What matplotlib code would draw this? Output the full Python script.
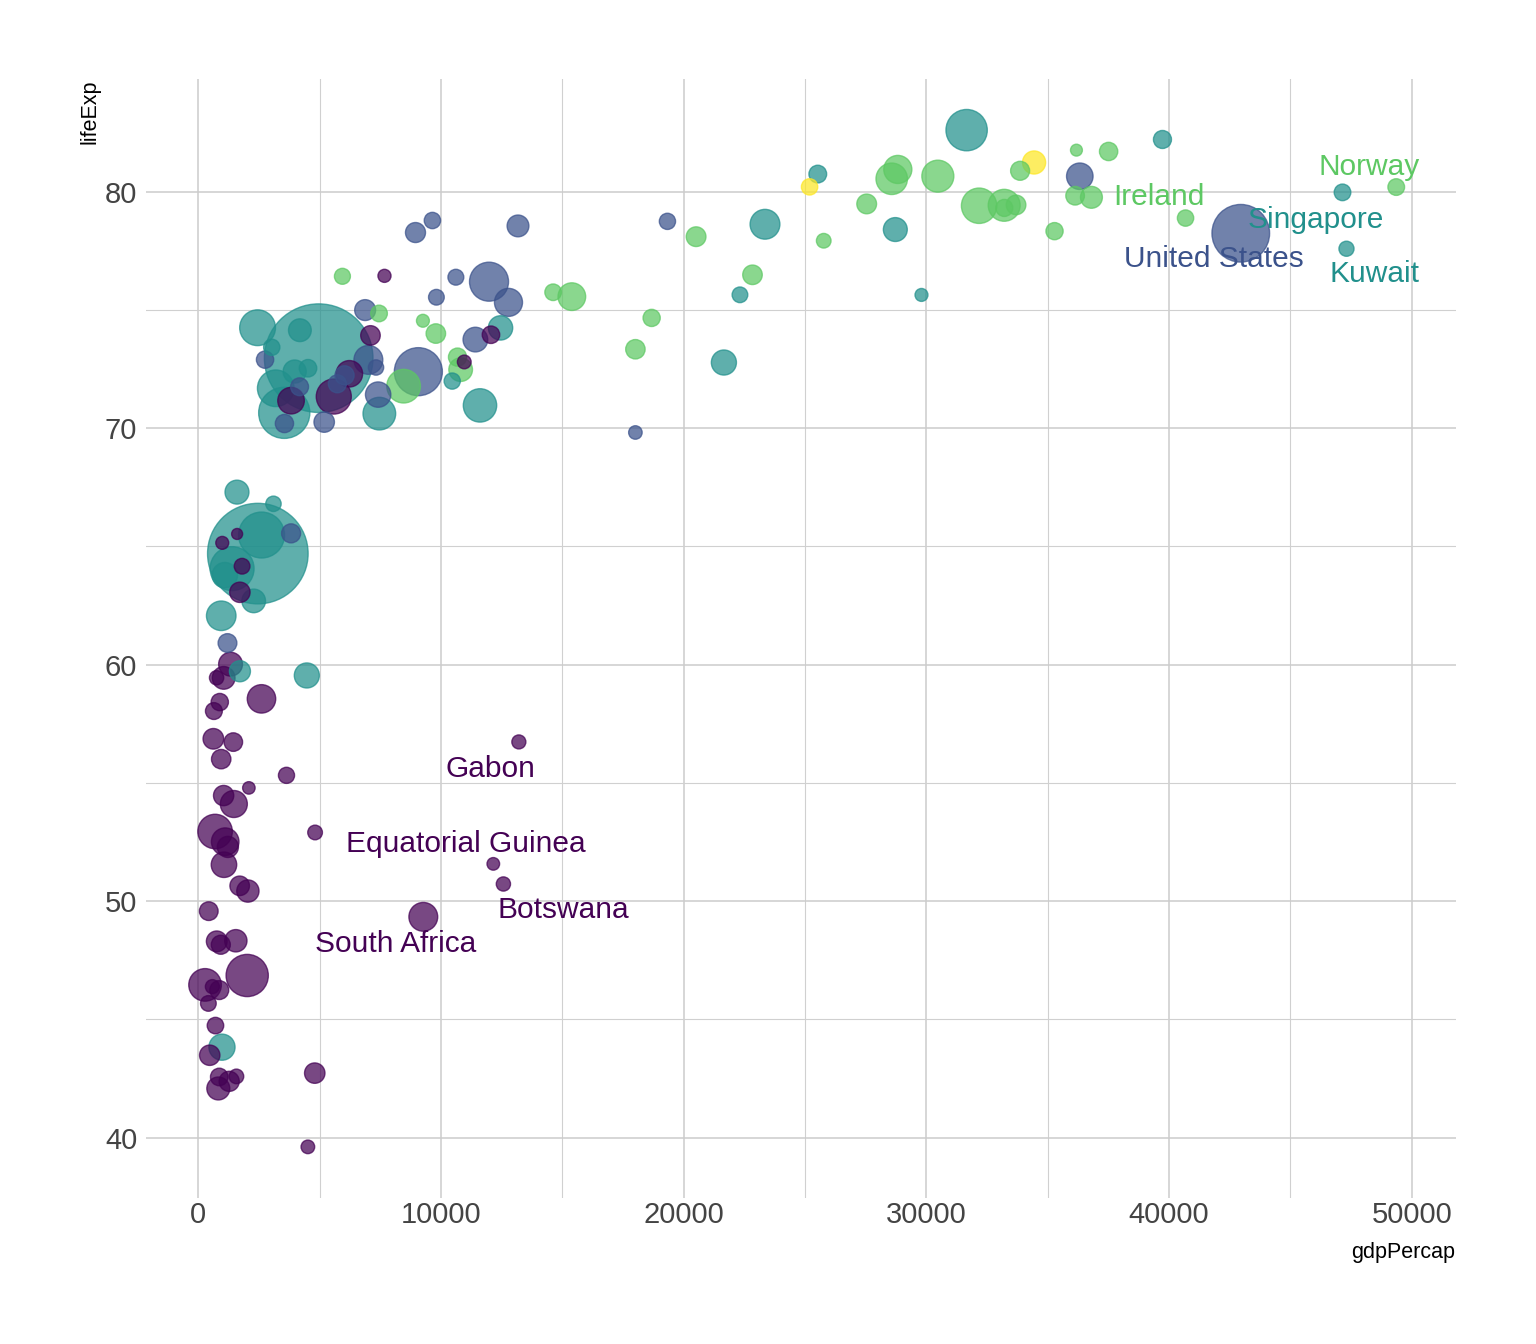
import numpy as np
import matplotlib
matplotlib.use("Agg")
import matplotlib.pyplot as plt
from matplotlib.ticker import MultipleLocator

countries = ["Afghanistan","Albania","Algeria","Angola","Argentina","Australia","Austria","Bahrain","Bangladesh","Belgium",
"Benin","Bolivia","Bosnia and Herzegovina","Botswana","Brazil","Bulgaria","Burkina Faso","Burundi","Cambodia","Cameroon",
"Canada","Central African Republic","Chad","Chile","China","Colombia","Comoros","Congo, Dem. Rep.","Congo, Rep.","Costa Rica",
"Cote d'Ivoire","Croatia","Cuba","Czech Republic","Denmark","Djibouti","Dominican Republic","Ecuador","Egypt","El Salvador",
"Equatorial Guinea","Eritrea","Ethiopia","Finland","France","Gabon","Gambia","Germany","Ghana","Greece",
"Guatemala","Guinea","Guinea-Bissau","Haiti","Honduras","Hong Kong, China","Hungary","Iceland","India","Indonesia",
"Iran","Iraq","Ireland","Israel","Italy","Jamaica","Japan","Jordan","Kenya","Korea, Dem. Rep.",
"Korea, Rep.","Kuwait","Lebanon","Lesotho","Liberia","Libya","Madagascar","Malawi","Malaysia","Mali",
"Mauritania","Mauritius","Mexico","Mongolia","Montenegro","Morocco","Mozambique","Myanmar","Namibia","Nepal",
"Netherlands","New Zealand","Nicaragua","Niger","Nigeria","Norway","Oman","Pakistan","Panama","Paraguay",
"Peru","Philippines","Poland","Portugal","Puerto Rico","Reunion","Romania","Rwanda","Sao Tome and Principe","Saudi Arabia",
"Senegal","Serbia","Sierra Leone","Singapore","Slovak Republic","Slovenia","Somalia","South Africa","Spain","Sri Lanka",
"Sudan","Swaziland","Sweden","Switzerland","Syria","Taiwan","Tanzania","Thailand","Togo","Trinidad and Tobago",
"Tunisia","Turkey","Uganda","United Kingdom","United States","Uruguay","Venezuela","Vietnam","West Bank and Gaza","Yemen, Rep.",
"Zambia","Zimbabwe"]

continent = ["Asia","Europe","Africa","Africa","Americas","Oceania","Europe","Asia","Asia","Europe",
"Africa","Americas","Europe","Africa","Americas","Europe","Africa","Africa","Asia","Africa",
"Americas","Africa","Africa","Americas","Asia","Americas","Africa","Africa","Africa","Americas",
"Africa","Europe","Americas","Europe","Europe","Africa","Americas","Americas","Africa","Americas",
"Africa","Africa","Africa","Europe","Europe","Africa","Africa","Europe","Africa","Europe",
"Americas","Africa","Africa","Americas","Americas","Asia","Europe","Europe","Asia","Asia",
"Asia","Asia","Europe","Asia","Europe","Americas","Asia","Asia","Africa","Asia",
"Asia","Asia","Asia","Africa","Africa","Africa","Africa","Africa","Asia","Africa",
"Africa","Africa","Americas","Asia","Europe","Africa","Africa","Asia","Africa","Asia",
"Europe","Oceania","Americas","Africa","Africa","Europe","Asia","Asia","Americas","Americas",
"Americas","Asia","Europe","Europe","Americas","Africa","Europe","Africa","Africa","Asia",
"Africa","Europe","Africa","Asia","Europe","Europe","Africa","Africa","Europe","Asia",
"Africa","Africa","Europe","Europe","Asia","Asia","Africa","Asia","Africa","Americas",
"Africa","Europe","Africa","Europe","Americas","Americas","Americas","Asia","Asia","Asia",
"Africa","Africa"]

lifeExp = [43.828,76.423,72.301,42.731,75.320,81.235,79.829,75.635,64.062,79.441,
56.728,65.554,74.852,50.728,72.390,73.005,52.295,49.580,59.723,50.430,
80.653,44.741,50.651,78.553,72.961,72.889,65.152,46.462,55.322,78.782,
48.328,75.748,78.273,76.486,78.332,54.791,72.235,74.994,71.338,71.878,
51.579,58.040,52.947,79.313,80.657,56.735,59.448,79.406,60.022,79.483,
70.259,56.007,46.388,60.916,70.198,82.208,73.338,81.757,64.698,70.650,
70.964,59.545,78.885,80.745,80.546,72.567,82.603,72.535,54.110,67.297,
78.623,77.588,71.993,42.592,45.678,73.952,59.443,48.303,74.241,54.467,
64.164,72.801,76.195,66.803,74.543,71.164,42.082,62.069,52.906,63.785,
79.762,80.204,72.899,56.867,46.859,80.196,75.640,65.483,75.537,71.752,
71.421,71.688,75.563,78.098,78.746,76.442,72.476,46.242,65.528,72.777,
63.062,74.002,42.568,79.972,74.663,77.926,48.159,49.339,80.941,72.396,
58.556,39.613,80.884,81.701,74.143,78.400,52.517,70.616,58.420,69.819,
73.923,71.777,51.542,79.425,78.242,76.384,73.747,74.249,73.422,62.698,
42.384,43.487]

gdpPercap = [974.58,5937.03,6223.37,4797.23,12779.38,34435.37,36126.49,29796.05,1391.25,33692.61,
1441.28,3822.14,7446.30,12569.85,9065.80,10680.79,1217.03,430.07,1713.78,2042.10,
36319.24,706.02,1704.06,13171.64,4959.11,7006.58,986.15,277.55,3632.56,9645.06,
1544.75,14619.22,8948.10,22833.31,35278.42,2082.48,6025.37,6873.26,5581.18,5728.35,
12154.09,641.37,690.81,33207.08,30470.02,13206.48,752.75,32170.37,1327.61,27538.41,
5186.05,942.65,579.23,1201.64,3548.33,39724.98,18008.94,36180.79,2452.21,3540.65,
11605.71,4471.06,40676.00,25523.28,28569.72,7320.88,31656.07,4519.46,1463.25,1593.07,
23348.14,47306.99,10461.06,1569.33,414.51,12057.50,1044.77,759.35,12451.66,1042.58,
1803.15,10956.99,11977.57,3095.77,9253.90,3820.18,823.69,944.00,4811.06,1091.36,
36797.93,25185.01,2749.32,619.68,2013.98,49357.19,22316.19,2605.95,9809.19,4172.84,
7408.91,3190.48,15389.92,20509.65,19328.71,7670.12,10808.48,863.09,1598.44,21654.83,
1712.47,9786.53,862.54,47143.18,18678.31,25768.26,926.14,9269.66,28821.06,3970.10,
2602.39,4513.48,33859.75,37506.42,4184.55,28718.28,1107.48,7458.40,882.97,18008.51,
7092.92,8458.28,1056.38,33203.26,42951.65,10611.46,11415.81,2441.58,3025.35,2280.77,
1271.21,469.71]

pop = [31889923,3600523,33333216,12420476,40301927,20434176,8199783,708573,150448339,10392226,
8078314,9119152,4552198,1639131,190010647,7322858,14326203,8390505,14131858,17696293,
33390141,4369038,10238807,16284741,1318683096,44227550,710960,64606759,3800610,4133884,
18013409,4493312,11416987,10228744,5468120,496374,9319622,13755680,80264543,6939688,
551201,4906585,76511887,5238460,61083916,1454867,1688359,82400996,22873338,10706290,
12572928,9947814,1472041,8502814,7483763,6980412,9956108,301931,1110396331,223547000,
69453570,27499638,4109086,6426679,58147733,2780132,127467972,6053193,35610177,23301725,
49044790,2505559,3921278,2012649,3193942,6036914,19167654,13327079,24821286,12031795,
3270065,1250882,108700891,2874127,684736,33757175,19951656,47761980,2055080,28901790,
16570613,4115771,5675356,12894865,135031164,4627926,3204897,169270617,3242173,6667147,
28674757,91077287,38518241,10642836,3942491,798094,22276056,8860588,199579,27601038,
12267493,10150265,6144562,4553009,5447502,2009245,9118773,43997828,40448191,20378239,
42292929,1133066,9031088,7554661,19314747,23174294,38139640,65068149,5701579,1056608,
10276158,71158647,29170398,60776238,301139947,3447496,26084662,85262356,4018332,22211743,
11746035,12311143]

continent_levels = ["Africa", "Americas", "Asia", "Europe", "Oceania"]
continent_colors = ["#440154", "#3B528B", "#21908C", "#5DC863", "#FDE725"]

label_countries = ["Norway", "Ireland", "Singapore", "United States", "Kuwait",
                   "Gabon", "Equatorial Guinea", "Botswana", "South Africa"]
# label offsets in pixels (dx right, dy down to baseline)
label_offsets = [(-27, -12), (-27, -13), (-27, 36), (-27, 34), (28, 33),
                 (-28, 35), (-27, -12), (60, 34), (-28, 35)]

DPI = 100
fig = plt.figure(figsize=(15.36, 13.44), dpi=DPI)
fig.patch.set_facecolor("white")
ax = fig.add_axes([145.5/1536, 1 - 1197.7/1344, (1455.8-145.5)/1536, (1197.7-79.3)/1344])

gdp = np.array(gdpPercap)
le = np.array(lifeExp)
pp = np.array(pop, dtype=float)
cmap = dict(zip(continent_levels, continent_colors))
cols = np.array([cmap[c] for c in continent])

# size scale (sqrt of rescaled population -> diameter in pixels)
lw_pt = 1.0
dpx = 12.4 + 97.6 * np.sqrt((pp - pp.min()) / (pp.max() - pp.min()))
dpt = (dpx - lw_pt * DPI / 72) * 72 / DPI
sizes = dpt ** 2

order = np.argsort(-pp, kind="stable")
ax.scatter(gdp[order], le[order], s=sizes[order], c=cols[order], edgecolors=cols[order],
           linewidths=lw_pt, alpha=0.72, zorder=3)

# limits with 5% expansion
xr = gdp.max() - gdp.min()
yr = le.max() - le.min()
ax.set_xlim(gdp.min() - 0.05 * xr, gdp.max() + 0.05 * xr)
ax.set_ylim(le.min() - 0.05 * yr, le.max() + 0.05 * yr)

ax.xaxis.set_major_locator(MultipleLocator(10000))
ax.xaxis.set_minor_locator(MultipleLocator(5000))
ax.yaxis.set_major_locator(MultipleLocator(10))
ax.yaxis.set_minor_locator(MultipleLocator(5))
ax.grid(which="major", color="#cccccc", linewidth=1.1, zorder=0)
ax.grid(which="minor", color="#d0d0d0", linewidth=0.8, zorder=0)
ax.set_axisbelow(True)
for sp in ax.spines.values():
    sp.set_visible(False)

tick_font = ["Liberation Sans Narrow", "Liberation Sans", "DejaVu Sans"]
ax.tick_params(which="both", length=0)
ax.tick_params(axis="x", pad=2.5, labelsize=21, labelcolor="#444444")
ax.tick_params(axis="y", pad=6, labelsize=21, labelcolor="#444444")
for lab in ax.get_xticklabels() + ax.get_yticklabels():
    lab.set_fontfamily(tick_font)

ax.set_xlabel("")
ax.set_ylabel("")
fig.text(1455.5/1536, 1 - 1258/1344, "gdpPercap", ha="right", va="baseline",
         fontsize=15.5, family=tick_font, color="black")
fig.text(101/1536, 1 - 80/1344, "lifeExp", ha="right", va="top", rotation=90,
         fontsize=15.5, family=tick_font, color="black")

for name, (dx, dy) in zip(label_countries, label_offsets):
    i = countries.index(name)
    ax.annotate(name, xy=(gdp[i], le[i]), xytext=(dx, -dy), textcoords="offset pixels",
                ha="center", va="baseline", fontsize=21.5,
                family=["Liberation Sans", "DejaVu Sans"], color=cmap[continent[i]], zorder=5)

fig.savefig("out.png", dpi=DPI)
